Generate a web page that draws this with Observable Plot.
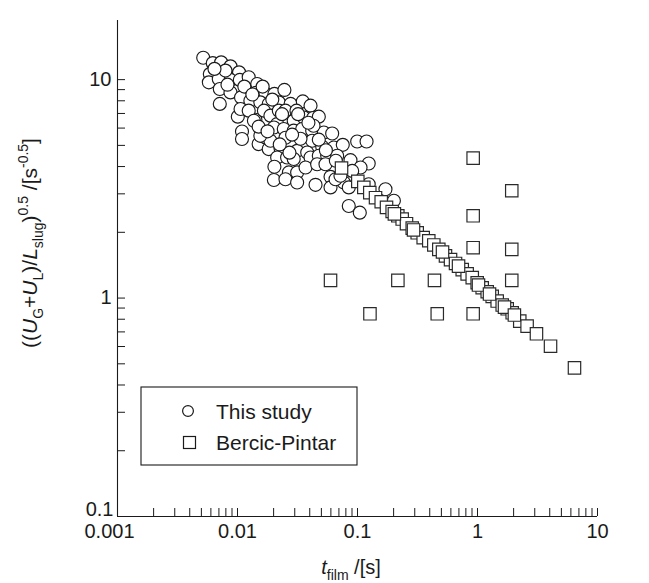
<!DOCTYPE html>
<html><head><meta charset="utf-8">
<script src="https://cdn.jsdelivr.net/npm/d3@7"></script>
<script src="https://cdn.jsdelivr.net/npm/@observablehq/plot@0.6"></script>
<style>
body{margin:0;background:#fff}
#chart{position:relative;width:649px;height:583px}
</style>
</head><body><div id="chart"></div>
<script>
// ---- data ----
const studyT = [0.00518,0.00622,0.00731,0.00874,0.0103,0.00588,0.00577,0.00698,0.00712,0.00874,
0.00874,0.01045,0.0107,0.0124,0.0146,0.0142,0.0171,0.0203,0.0246,0.0128,
0.0155,0.0182,0.0221,0.0277,0.0350,0.0406,0.00712,0.01006,0.0106,0.0141,
0.0166,0.0188,0.0221,0.0251,0.0294,0.0357,0.0427,0.0476,0.0214,0.0201,
0.0243,0.0294,0.0346,0.0419,0.0524,0.0615,0.0109,0.0109,0.0150,0.0171,
0.0182,0.0228,0.0277,0.0357,0.0419,0.0508,0.0635,0.0754,0.0994,0.119,
0.0314,0.0381,0.0214,0.0259,0.0294,0.0406,0.0476,0.0559,0.0677,0.0874,
0.124,0.0203,0.0268,0.0314,0.0201,0.0251,0.0314,0.0447,0.0596,0.0596,
0.0769,0.0846,0.171,0.0846,0.1045,0.0369,0.0461,0.0541,0.106,0.0903,
0.0656,0.124,0.201,
0.00794,0.00643,0.0114,0.0162,0.00825,0.0124,0.0251,0.0310,0.0335,0.0430,
0.0251,0.0137,0.0188,0.0155,0.0721,0.0150,0.0271,0.0476,
0.0133,0.0195,0.0235,0.0320,0.0390,0.0285,0.0225,0.0178,0.0545,0.0660];
const studyY = [12.6,11.9,12.0,11.5,10.8,10.6,9.72,10.07,9.06,9.97,
8.74,9.97,8.29,10.25,9.55,8.69,8.65,8.60,8.97,8.01,
7.87,7.74,7.87,7.74,7.95,7.60,7.74,6.77,7.34,6.55,
7.21,6.84,7.21,6.55,6.48,6.71,6.67,6.77,6.26,6.04,
5.94,5.84,5.94,5.84,5.73,5.67,5.79,5.35,5.07,5.44,
4.81,4.86,5.07,5.16,5.25,4.93,4.89,5.03,5.21,5.21,
4.72,4.64,4.40,4.40,4.33,4.40,4.48,4.48,4.48,4.28,
4.13,3.99,3.76,3.76,3.47,3.50,3.38,3.30,3.59,3.21,
3.38,3.21,3.15,2.64,2.46,3.96,4.10,4.10,3.96,3.82,
3.50,3.32,2.79,
11.0,11.2,9.29,9.29,9.48,7.21,7.21,7.21,5.36,6.15,
5.42,6.48,5.25,5.53,3.63,6.09,4.63,5.31,
8.55,8.10,6.95,6.95,6.35,5.60,5.05,5.80,4.75,4.25];

const bercicT = [0.0736,0.1006,0.1129,0.1266,0.1413,0.1576,0.1745,0.1945,0.2168,0.2357,
0.256,0.2858,0.3144,0.3527,0.3926,0.4325,0.476,0.541,0.596,0.656,
0.746,0.820,0.904,0.994,1.094,1.205,1.326,1.459,1.607,1.768,
1.946,2.25,2.59,3.10,4.06,6.43,
0.511,0.695,1.019,1.259,1.679,2.03,0.293,0.203,
0.92,1.93,0.92,0.92,1.93,0.0596,0.217,0.438,1.93,0.127,0.462,0.92];
const bercicY = [3.94,3.42,3.21,3.04,2.88,2.76,2.60,2.49,2.38,2.30,
2.19,2.09,1.99,1.89,1.83,1.75,1.67,1.56,1.50,1.44,
1.35,1.29,1.24,1.175,1.115,1.069,1.018,0.969,0.929,0.893,
0.856,0.784,0.744,0.686,0.602,0.479,
1.625,1.40,1.147,1.043,0.909,0.836,2.05,2.43,
4.37,3.10,2.38,1.70,1.67,1.205,1.205,1.205,1.205,0.847,0.847,0.847];

const xTickValues = [0.001,0.01,0.1,1,10];
const xTickLabels = ["0.001","0.01","0.1","1","10"];
const yTickValues = [0.1,1,10];
const yTickLabels = ["0.1","1","10"];
const seriesNames = ["This study","Bercic-Pintar"];

// ---- tables ----
const study = studyT.map((t,i)=>({t, v: studyY[i]}));
const bercic = bercicT.map((t,i)=>({t, v: bercicY[i]}));
const xDomain = [0.001, 10], yDomain = [0.1, 18.65];
function minorTicks(lo, hi){
  const out=[];
  for(let e=Math.round(Math.log10(lo)); e<Math.round(Math.log10(hi)); e++)
    for(let k=1;k<10;k++) out.push(+(k*Math.pow(10,e)).toPrecision(3));
  out.push(hi); return out.filter(d=>d>lo);
}
const xMinor = minorTicks(0.001, 10);
const yMinor = minorTicks(0.1, 10);
const xLab = xTickValues.map((v,i)=>({v, s: xTickLabels[i]}));
const yLab = yTickValues.map((v,i)=>({v, s: yTickLabels[i]}));

const FONT = "'Liberation Sans', Arial, Helvetica, sans-serif";
const INK = "#1a1a1a";

const svg = Plot.plot({
  width: 649, height: 583,
  marginTop: 20, marginBottom: 67, marginLeft: 117, marginRight: 52,
  x: {type: "log", domain: xDomain, axis: null},
  y: {type: "log", domain: yDomain, axis: null},
  style: {fontFamily: FONT, fontSize: "20px", background: "white", color: INK},
  marks: [
    Plot.ruleX([xDomain[0]], {stroke: INK, strokeWidth: 1.1}),
    Plot.ruleY([yDomain[0]], {stroke: INK, strokeWidth: 1.1}),
    Plot.ruleX(xMinor, {x: d=>d, y1: yDomain[0], y2: yDomain[0], insetTop: 0, insetBottom: 8, stroke: INK, strokeWidth: 1}),
    Plot.ruleY(yMinor, {y: d=>d, x1: xDomain[0], x2: xDomain[0], insetLeft: 0, insetRight: -8, stroke: INK, strokeWidth: 1}),
    Plot.text(xLab.slice(1), {x: "v", text: "s", frameAnchor: "bottom", dy: 21, fontSize: 20, fill: INK}),
    Plot.text(xLab.slice(0,1), {x: "v", text: "s", frameAnchor: "bottom", dy: 21, dx: -8, fontSize: 20, fill: INK}),
    Plot.text(yLab.slice(1), {y: "v", text: "s", frameAnchor: "left", dx: -6, textAnchor: "end", fontSize: 20, fill: INK}),
    Plot.text(yLab.slice(0,1), {y: "v", text: "s", frameAnchor: "left", dx: -4, dy: -7, textAnchor: "end", fontSize: 20, fill: INK}),
    Plot.dot(study, {x: "t", y: "v", r: 6.5, fill: "white", stroke: INK, strokeWidth: 1.15}),
    Plot.dot(bercic, {x: "t", y: "v", symbol: "square", r: 7.0, fill: "white", stroke: "#2a2a2a", strokeWidth: 1.2})
  ]
});

const root = d3.select(svg);
function rich(g, parts, size, subSize){
  const t = g.append("text").attr("font-family", FONT).attr("font-size", size).attr("fill", INK);
  let shift = 0;
  for (const p of parts){
    const target = p.sub ? size*0.28 : p.sup ? -size*0.42 : 0;
    const ts = t.append("tspan").text(p.s).attr("dy", target - shift);
    if (p.sub || p.sup) ts.attr("font-size", subSize);
    if (p.it) ts.attr("font-style", "italic");
    shift = target;
  }
  return t;
}
// y axis title
const gy = root.append("g").attr("transform", "translate(37,243) rotate(-90)");
rich(gy, [
  {s:"(("},{s:"U",it:true},{s:"G",sub:true},{s:"+"},{s:"U",it:true},{s:"L",sub:true},
  {s:")/"},{s:"L",it:true},{s:"slug",sub:true},{s:")"},{s:"0.5",sup:true},{s:" /[s"},
  {s:"-0.5",sup:true},{s:"]"}
], 21, 14).attr("text-anchor", "middle");
// x axis title
const gx = root.append("g").attr("transform", "translate(351,574)");
rich(gx, [{s:"t",it:true},{s:"film",sub:true},{s:" /[s]"}], 20, 14).attr("text-anchor", "middle");

// legend (inside the frame)
const lg = root.append("g");
lg.append("rect").attr("x", 141).attr("y", 387).attr("width", 216).attr("height", 78)
  .attr("fill", "white").attr("stroke", INK).attr("stroke-width", 1.1);
lg.append("circle").attr("cx", 188).attr("cy", 411).attr("r", 5.4)
  .attr("fill", "white").attr("stroke", INK).attr("stroke-width", 1.2);
lg.append("rect").attr("x", 183.5).attr("y", 436.5).attr("width", 12).attr("height", 12)
  .attr("fill", "white").attr("stroke", INK).attr("stroke-width", 1.2);
seriesNames.forEach((name, i) => {
  lg.append("text").attr("x", 216).attr("y", 418.5 + i*31).attr("font-family", FONT)
    .attr("text-anchor", "start").attr("font-size", 21).attr("fill", INK).text(name);
});

document.getElementById("chart").appendChild(svg);
</script>
</body></html>
